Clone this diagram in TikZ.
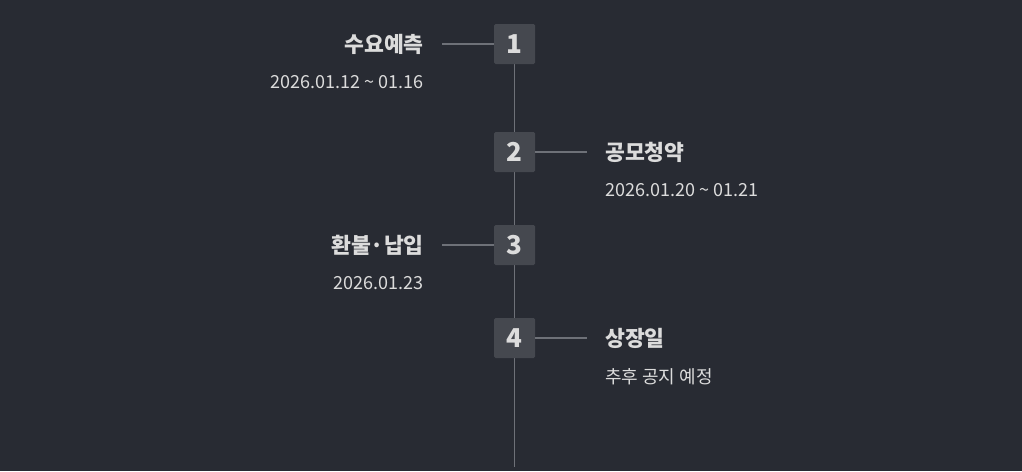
\documentclass[tikz,border=0pt]{standalone}
\usepackage{fontspec}
\setmainfont{Noto Sans CJK KR}
\definecolor{bg}{HTML}{282B33}
\definecolor{boxc}{HTML}{45484F}
\definecolor{linec}{HTML}{6E7178}
\definecolor{txt}{HTML}{DCDCDC}
\tikzset{
  stepbox/.style={fill=boxc, rounded corners=1.5pt, minimum width=41pt, minimum height=40pt, inner sep=0pt, text=txt, font=\fontsize{26}{26}\selectfont\bfseries},
  ttl/.style={text=txt, font=\fontsize{21.6}{22}\selectfont\bfseries, inner sep=0pt},
  dte/.style={text=txt, font=\fontsize{18}{18}\selectfont, inner sep=0pt},
  conn/.style={draw=linec, line width=1.8pt},
}
\begin{document}
\begin{tikzpicture}[x=1pt,y=-1pt]
\fill[bg] (0,0) rectangle (1022,471);
\useasboundingbox (0,0) rectangle (1022,471);
\coordinate (end) at (514.5,467);
\draw[conn] (514.5,44) -- (end);
\node[stepbox] (b1) at (514.5,44) {1};
\node[stepbox] (b2) at (514.5,152) {2};
\node[stepbox] (b3) at (514.5,245) {3};
\node[stepbox] (b4) at (514.5,338) {4};
\coordinate (c1) at (442,44);
\coordinate (c2) at (587,152);
\coordinate (c3) at (442,245);
\coordinate (c4) at (587,338);
\draw[conn] (b1.west) -- (c1);
\draw[conn] (b2.east) -- (c2);
\draw[conn] (b3.west) -- (c3);
\draw[conn] (b4.east) -- (c4);
\node[ttl, anchor=east] (t1) at (424,44) {수요예측};
\node[dte, anchor=east] (d1) at (424,82) {2026.01.12 \textasciitilde{} 01.16};
\node[ttl, anchor=west] (t2) at (605,152) {공모청약};
\node[dte, anchor=west] (d2) at (605,190) {2026.01.20 \textasciitilde{} 01.21};
\node[ttl, anchor=east] (t3) at (424,245) {환불·납입};
\node[dte, anchor=east] (d3) at (424,283) {2026.01.23};
\node[ttl, anchor=west] (t4) at (605,338) {상장일};
\node[dte, anchor=west] (d4) at (605,377) {추후 공지 예정};
\end{tikzpicture}
\end{document}
